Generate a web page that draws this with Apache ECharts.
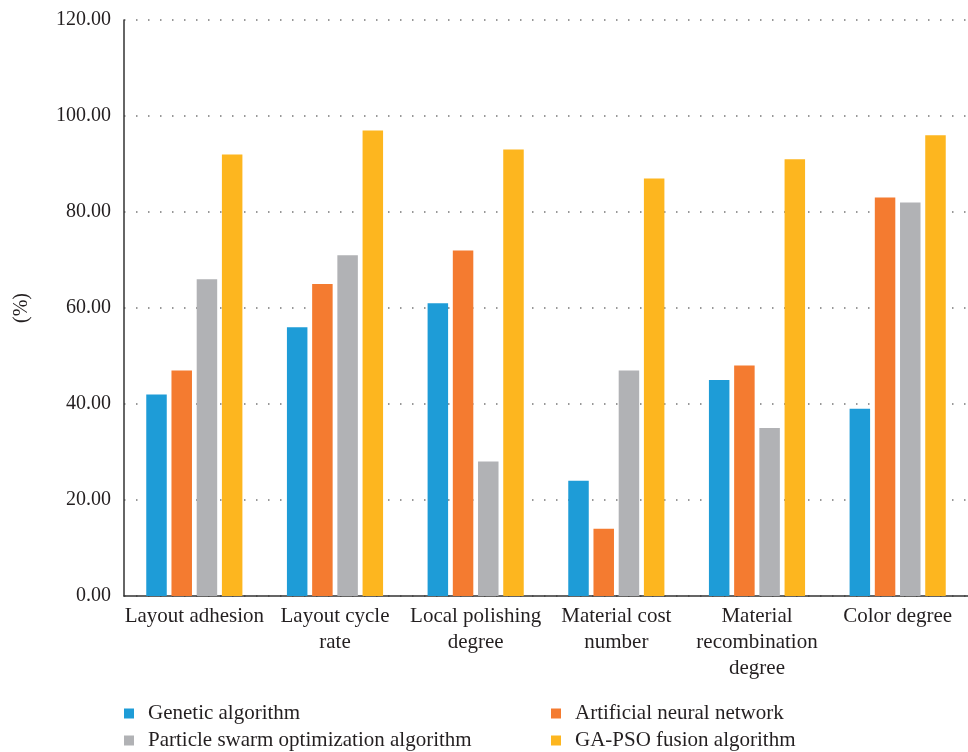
<!DOCTYPE html>
<html>
<head>
<meta charset="utf-8">
<script src="https://cdn.jsdelivr.net/npm/echarts@6/dist/echarts.min.js"></script>
<style>
  html, body { margin: 0; padding: 0; background: #fff; }
  #chart { width: 968px; height: 752px; }
</style>
</head>
<body>
<div id="chart"></div>
<script>
// Criteria on the x axis
const categories = [
  'Layout adhesion',
  'Layout cycle\nrate',
  'Local polishing\ndegree',
  'Material cost\nnumber',
  'Material\nrecombination\ndegree',
  'Color degree'
];

// Scores (%) for each algorithm
const geneticAlgorithm = [42, 56, 61, 24, 45, 39];
const neuralNetwork    = [47, 65, 72, 14, 48, 83];
const particleSwarm    = [66, 71, 28, 47, 35, 82];
const gaPsoFusion      = [92, 97, 93, 87, 91, 96];

const seriesNames = [
  'Genetic algorithm',
  'Artificial neural network',
  'Particle swarm optimization algorithm',
  'GA-PSO fusion algorithm'
];
const colors = ['#1E9CD7', '#F47B30', '#B1B2B5', '#FDB61F'];

const yTicks = { min: 0, max: 120, interval: 20 };

const font = 'Liberation Serif';
const textColor = '#231F20';

const chart = echarts.init(document.getElementById('chart'));

const legendText = {
  fontFamily: font, fontSize: 21, color: textColor,
  padding: [0, 0, 0, 9]
};
const legendCommon = {
  orient: 'vertical',
  top: 703,
  height: 60,
  width: 420,
  itemWidth: 10, itemHeight: 10, itemGap: 6,
  icon: 'rect',
  padding: 0,
  textStyle: legendText
};

chart.setOption({
  animation: false,
  color: colors,
  grid: { left: 124, right: -2, top: 20, bottom: 156, containLabel: false },
  legend: [
    Object.assign({ data: [seriesNames[0], seriesNames[2]], left: 124 }, legendCommon),
    Object.assign({ data: [seriesNames[1], seriesNames[3]], left: 551 }, legendCommon)
  ],
  xAxis: {
    type: 'category',
    data: categories,
    axisLine: { lineStyle: { color: '#333', width: 1.5 } },
    axisTick: { show: false },
    axisLabel: {
      fontFamily: font, fontSize: 21, color: textColor,
      lineHeight: 26, margin: 7, interval: 0
    }
  },
  yAxis: {
    type: 'value',
    min: yTicks.min, max: yTicks.max, interval: yTicks.interval,
    name: '(%)',
    nameLocation: 'middle',
    nameRotate: 90,
    nameGap: 92,
    nameTextStyle: { fontFamily: font, fontSize: 20, color: textColor },
    axisLine: { show: true, lineStyle: { color: '#333', width: 1.5 } },
    axisTick: { show: false },
    axisLabel: {
      fontFamily: font, fontSize: 20, color: textColor, margin: 13,
      formatter: v => v.toFixed(2)
    },
    splitLine: {
      show: true,
      lineStyle: { color: '#777', type: [1.5, 10.5], width: 1.5 }
    }
  },
  series: [geneticAlgorithm, neuralNetwork, particleSwarm, gaPsoFusion].map((d, i) => ({
    name: seriesNames[i],
    type: 'bar',
    data: d,
    barWidth: 20.5,
    barGap: '23%',
    itemStyle: { color: colors[i] }
  }))
});
</script>
</body>
</html>
